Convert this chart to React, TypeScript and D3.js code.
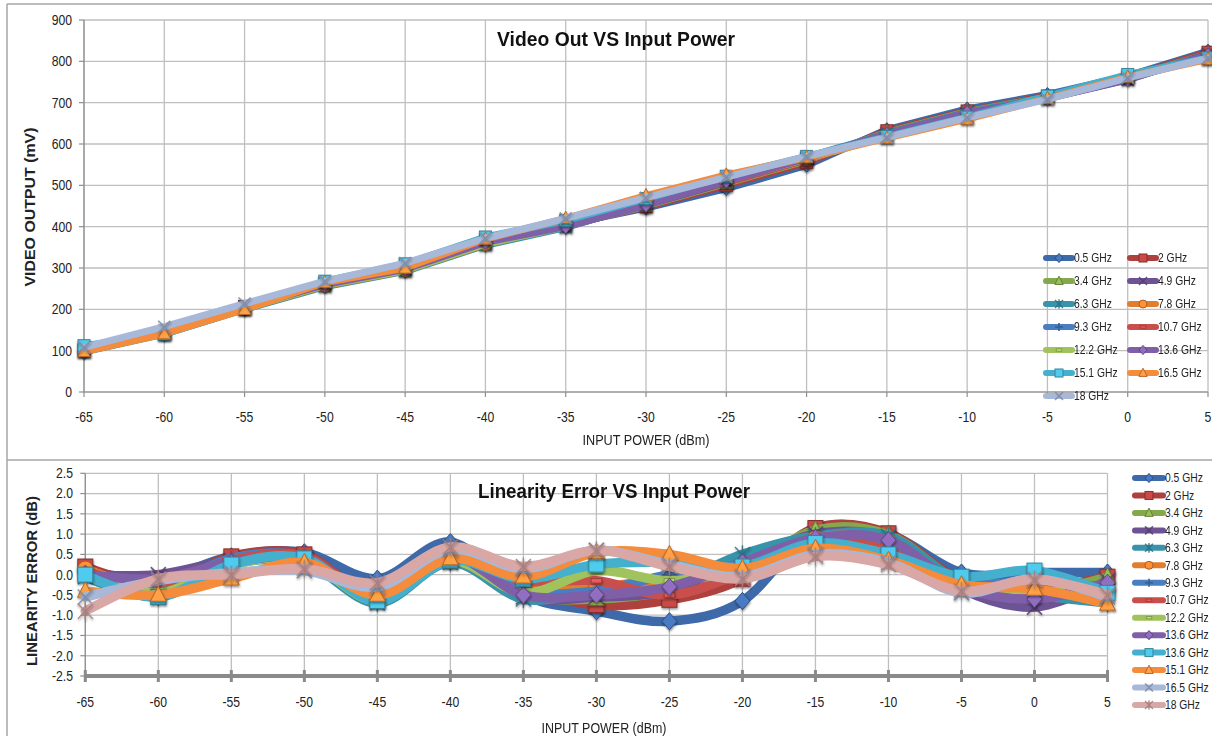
import React from 'react';
import * as d3 from 'd3';

// ---------- data ----------
const inputPower = [-65, -60, -55, -50, -45, -40, -35, -30, -25, -20, -15, -10, -5, 0, 5];
const videoTicks = [0, 100, 200, 300, 400, 500, 600, 700, 800, 900];
const errorTicks = [-2.5, -2.0, -1.5, -1.0, -0.5, 0.0, 0.5, 1.0, 1.5, 2.0, 2.5];

const topLabels = ['0.5 GHz', '2 GHz', '3.4 GHz', '4.9 GHz', '6.3 GHz', '7.8 GHz', '9.3 GHz', '10.7 GHz', '12.2 GHz', '13.6 GHz', '15.1 GHz', '16.5 GHz', '18 GHz'];
const bottomLabels = ['0.5 GHz', '2 GHz', '3.4 GHz', '4.9 GHz', '6.3 GHz', '7.8 GHz', '9.3 GHz', '10.7 GHz', '12.2 GHz', '13.6 GHz', '13.6 GHz', '15.1 GHz', '16.5 GHz', '18 GHz'];

const palette = ['#3E6AAA', '#AE403D', '#84A84B', '#6E5394', '#3893AB', '#E07E2E', '#4A7EC2', '#C84F4C', '#A0C35E', '#7F5FA8', '#45B0CE', '#F48C3C', '#A7B8D8', '#D9A7A6'];
const markerKinds = ['diamond', 'square', 'triangle', 'x', 'star', 'circle', 'plus', 'dash', 'dash', 'diamond', 'square', 'triangle', 'x', 'star'];

// Video output (mV)
const video05 = [100, 145, 205, 260, 305, 370, 405, 445, 492, 548, 635, 685, 720, 765, 825];
const video2 = [102, 143, 207, 262, 297, 362, 405, 448, 500, 555, 632, 680, 716, 762, 822];
const video34 = [98, 142, 203, 258, 294, 358, 402, 450, 505, 560, 628, 678, 714, 760, 818];
const video49 = [100, 148, 204, 258, 296, 360, 400, 452, 507, 563, 626, 676, 710, 755, 818];
const video63 = [97, 140, 200, 255, 292, 355, 398, 455, 510, 568, 625, 677, 713, 758, 810];
const video78 = [100, 142, 202, 257, 294, 357, 404, 457, 514, 562, 622, 672, 712, 760, 812];
const video93 = [100, 143, 205, 262, 298, 366, 402, 455, 516, 565, 622, 670, 714, 763, 814];
const video107 = [101, 143, 204, 261, 297, 362, 406, 460, 508, 562, 620, 668, 713, 760, 811];
const video122 = [99, 142, 202, 258, 294, 358, 400, 465, 512, 564, 618, 665, 712, 760, 811];
const video136 = [100, 146, 204, 260, 297, 362, 400, 452, 510, 565, 624, 676, 710, 756, 816];
const video151 = [112, 140, 202, 268, 310, 375, 415, 468, 522, 570, 618, 665, 716, 768, 808];
const video165 = [98, 141, 200, 265, 300, 370, 420, 475, 525, 567, 614, 660, 710, 762, 805];
const video18 = [108, 158, 214, 268, 312, 372, 420, 470, 520, 570, 616, 664, 708, 760, 808];
const videoSeries = [video05, video2, video34, video49, video63, video78, video93, video107, video122, video136, video151, video165, video18];

// Linearity error (dB)
const err05 = [0.1, -0.1, 0.45, 0.55, -0.1, 0.8, -0.5, -0.9, -1.15, -0.65, 1.1, 1.0, 0.05, 0.05, 0.05];
const err2 = [0.2, -0.25, 0.45, 0.5, -0.55, 0.4, -0.3, -0.75, -0.62, -0.1, 1.15, 1.02, -0.15, -0.35, -0.05];
const err34 = [0.05, -0.45, 0.3, 0.35, -0.65, 0.35, -0.5, -0.6, -0.4, 0.1, 1.1, 0.98, -0.2, -0.45, -0.05];
const err49 = [0.0, 0.0, 0.35, 0.4, -0.6, 0.45, -0.55, -0.55, -0.4, 0.3, 1.0, 0.9, -0.35, -0.8, -0.15];
const err63 = [-0.05, -0.55, 0.25, 0.3, -0.7, 0.3, -0.6, -0.4, -0.25, 0.5, 0.95, 0.95, -0.2, -0.5, -0.7];
const err78 = [0.15, -0.35, 0.3, 0.35, -0.6, 0.35, -0.25, -0.3, -0.1, 0.1, 0.9, 0.82, -0.25, -0.3, -0.4];
const err93 = [0.05, -0.3, 0.4, 0.45, -0.55, 0.5, -0.4, -0.4, 0.0, 0.2, 0.85, 0.7, -0.15, -0.2, -0.3];
const err107 = [0.1, -0.3, 0.35, 0.45, -0.55, 0.4, -0.15, -0.15, -0.5, 0.05, 0.8, 0.6, -0.2, -0.35, -0.5];
const err122 = [0.05, -0.45, 0.25, 0.35, -0.65, 0.35, -0.45, 0.1, -0.15, 0.15, 0.7, 0.5, -0.25, -0.4, -0.45];
const err136 = [0.0, -0.1, 0.3, 0.4, -0.55, 0.45, -0.5, -0.5, -0.3, 0.3, 0.9, 0.85, -0.3, -0.6, -0.2];
const err136b = [0.0, -0.55, 0.25, 0.4, -0.65, 0.35, -0.1, 0.25, 0.3, 0.2, 0.78, 0.5, -0.05, 0.1, -0.45];
const err151 = [-0.4, -0.5, -0.1, 0.3, -0.5, 0.4, -0.05, 0.55, 0.5, 0.15, 0.65, 0.35, -0.25, -0.35, -0.72];
const err165 = [-0.55, -0.15, 0.05, 0.1, -0.3, 0.62, 0.15, 0.6, 0.25, -0.05, 0.5, 0.3, -0.45, -0.1, -0.55];
const err18 = [-0.9, -0.1, 0.0, 0.15, -0.2, 0.68, 0.2, 0.6, 0.2, -0.1, 0.45, 0.25, -0.4, -0.12, -0.5];
const errorSeries = [err05, err2, err34, err49, err63, err78, err93, err107, err122, err136, err136b, err151, err165, err18];

const FONT = "'Liberation Sans', Arial, sans-serif";

function NText({
  x,
  y,
  size,
  anchor = 'start',
  sx = 0.87,
  dy,
  children,
}: {
  x: number;
  y: number;
  size: number;
  anchor?: string;
  sx?: number;
  dy?: string;
  children: React.ReactNode;
}) {
  return (
    <text transform={`translate(${x},${y}) scale(${sx},1)`} textAnchor={anchor as any} fontSize={size} dy={dy} fill="#222">
      {children}
    </text>
  );
}

function Marker({ kind, x, y, r, color }: { kind: string; x: number; y: number; r: number; color: string }) {
  const c = d3.color(color)!;
  const dark = c.darker(0.8).toString();
  const light = c.brighter(0.4).toString();
  const common = { fill: light, stroke: dark, strokeWidth: 1 };
  switch (kind) {
    case 'diamond':
      return <path d={`M${x},${y - r * 1.15}L${x + r},${y}L${x},${y + r * 1.15}L${x - r},${y}Z`} {...common} />;
    case 'square':
      return <rect x={x - r} y={y - r} width={2 * r} height={2 * r} {...common} />;
    case 'triangle':
      return <path d={`M${x},${y - r * 1.2}L${x + r * 1.05},${y + r * 0.85}L${x - r * 1.05},${y + r * 0.85}Z`} {...common} />;
    case 'circle':
      return <circle cx={x} cy={y} r={r} {...common} />;
    case 'x':
      return (
        <g stroke={dark} strokeWidth={1.6} opacity={0.85}>
          <line x1={x - r} y1={y - r} x2={x + r} y2={y + r} />
          <line x1={x - r} y1={y + r} x2={x + r} y2={y - r} />
        </g>
      );
    case 'star':
      return (
        <g stroke={dark} strokeWidth={1.4} opacity={0.85}>
          <line x1={x - r} y1={y - r} x2={x + r} y2={y + r} />
          <line x1={x - r} y1={y + r} x2={x + r} y2={y - r} />
          <line x1={x} y1={y - r * 1.2} x2={x} y2={y + r * 1.2} />
        </g>
      );
    case 'plus':
      return (
        <g stroke={dark} strokeWidth={1.6}>
          <line x1={x - r} y1={y} x2={x + r} y2={y} />
          <line x1={x} y1={y - r} x2={x} y2={y + r} />
        </g>
      );
    case 'dash':
      return <rect x={x - r * 0.7} y={y - r * 0.3} width={r * 1.4} height={r * 0.6} fill={light} stroke={dark} strokeWidth={0.8} />;
    default:
      return null;
  }
}

export default function App() {
  const W = 1212;
  const H = 736;

  const xTop = d3.scaleLinear().domain([-65, 5]).range([84, 1208]);
  const yTop = d3.scaleLinear().domain([0, 900]).range([392, 20]);
  const xBot = d3.scaleLinear().domain([-65, 5]).range([85.3, 1107.5]);
  const yBot = d3.scaleLinear().domain([-2.5, 2.5]).range([676, 473.3]);

  const lineTop = d3.line<number>().x((_, i) => xTop(inputPower[i])).y((d) => yTop(d));
  const lineBot = d3
    .line<number>()
    .x((_, i) => xBot(inputPower[i]))
    .y((d) => yBot(d))
    .curve(d3.curveCardinal.tension(0));

  const grid = '#BFBFBF';
  const axisCol = '#8E8E8E';

  return (
    <svg width={W} height={H} style={{ position: 'absolute', left: 0, top: 0, background: '#fff' }} fontFamily={FONT}>
      <defs>
        <filter id="shadow" x="-50%" y="-50%" width="200%" height="200%">
          <feDropShadow dx="0.5" dy="1.5" stdDeviation="1.2" floodColor="#000" floodOpacity="0.45" />
        </filter>
      </defs>
      <rect x={0} y={0} width={W} height={H} fill="#fff" />
      <line x1={7} y1={4} x2={W} y2={4} stroke="#A6A6A6" strokeWidth={1.5} />
      <line x1={7} y1={4} x2={7} y2={H} stroke="#A6A6A6" strokeWidth={1.5} />
      <line x1={7} y1={460} x2={W} y2={460} stroke="#A6A6A6" strokeWidth={1.5} />

      {/* ================= TOP CHART ================= */}
      <g>
        {videoTicks.map((t) => (
          <line key={'hg' + t} x1={xTop(-65)} x2={xTop(5)} y1={yTop(t)} y2={yTop(t)} stroke={grid} strokeWidth={1.3} />
        ))}
        {inputPower.map((p) => (
          <line key={'vg' + p} x1={xTop(p)} x2={xTop(p)} y1={yTop(900)} y2={yTop(0)} stroke={grid} strokeWidth={1.3} />
        ))}
        <line x1={xTop(-65)} x2={xTop(-65)} y1={yTop(900)} y2={yTop(0)} stroke={axisCol} strokeWidth={1.2} />
        <line x1={xTop(-65)} x2={xTop(5)} y1={yTop(0)} y2={yTop(0)} stroke={axisCol} strokeWidth={1.2} />
        {videoTicks.map((t) => (
          <g key={'yt' + t}>
            <line x1={xTop(-65) - 5} x2={xTop(-65)} y1={yTop(t)} y2={yTop(t)} stroke={axisCol} strokeWidth={1.2} />
            <NText x={72} y={yTop(t)} dy="0.35em" anchor="end" size={14}>
              {t}
            </NText>
          </g>
        ))}
        {inputPower.map((p) => (
          <g key={'xt' + p}>
            <line x1={xTop(p)} x2={xTop(p)} y1={yTop(0)} y2={yTop(0) + 5} stroke={axisCol} strokeWidth={1.2} />
            <NText x={xTop(p)} y={yTop(0) + 30} anchor="middle" size={14}>
              {p}
            </NText>
          </g>
        ))}
        {videoSeries.map((s, si) => (
          <g key={'vs' + si}>
            <path d={lineTop(s) || ''} fill="none" stroke={palette[si]} strokeWidth={7} strokeLinejoin="round" strokeLinecap="round" />
            <g filter="url(#shadow)">
              {s.map((v, i) => (
                <Marker key={i} kind={markerKinds[si]} x={xTop(inputPower[i])} y={yTop(v)} r={6} color={palette[si]} />
              ))}
            </g>
          </g>
        ))}
        <text x={616} y={46} textAnchor="middle" fontSize={21} fontWeight="bold" fill="#111" textLength={238} lengthAdjust="spacingAndGlyphs">
          Video Out VS Input Power
        </text>
        <text x={646} y={445} textAnchor="middle" fontSize={15} fill="#222" textLength={127} lengthAdjust="spacingAndGlyphs">
          INPUT POWER (dBm)
        </text>
        <text transform="translate(35,207) rotate(-90)" textAnchor="middle" fontSize={14} fontWeight="bold" fill="#222" textLength={159} lengthAdjust="spacingAndGlyphs">
          VIDEO OUTPUT (mV)
        </text>
        {topLabels.map((lab, i) => {
          const col = i % 2;
          const row = Math.floor(i / 2);
          const lx = col === 0 ? 1046 : 1130;
          const ly = 258 + row * 23;
          return (
            <g key={'tl' + i}>
              <line x1={lx} x2={lx + 26} y1={ly} y2={ly} stroke={palette[i]} strokeWidth={6} strokeLinecap="round" />
              <Marker kind={markerKinds[i]} x={lx + 13} y={ly} r={4} color={palette[i]} />
              <NText x={lx + 28} y={ly} dy="0.35em" size={12} sx={0.86}>
                {lab}
              </NText>
            </g>
          );
        })}
      </g>

      {/* ================= BOTTOM CHART ================= */}
      <g>
        {errorTicks.map((t) => (
          <line key={'bhg' + t} x1={xBot(-65)} x2={xBot(5)} y1={yBot(t)} y2={yBot(t)} stroke={grid} strokeWidth={1.3} />
        ))}
        {inputPower.map((p) => (
          <line key={'bvg' + p} x1={xBot(p)} x2={xBot(p)} y1={yBot(2.5)} y2={yBot(-2.5)} stroke={grid} strokeWidth={1.3} />
        ))}
        <line x1={xBot(-65)} x2={xBot(-65)} y1={yBot(2.5)} y2={yBot(-2.5)} stroke={axisCol} strokeWidth={1.2} />
        {errorTicks.map((t) => (
          <g key={'byt' + t}>
            <line x1={xBot(-65) - 5} x2={xBot(-65)} y1={yBot(t)} y2={yBot(t)} stroke={axisCol} strokeWidth={1.2} />
            <NText x={73} y={yBot(t)} dy="0.35em" anchor="end" size={14}>
              {t.toFixed(1)}
            </NText>
          </g>
        ))}
        <line x1={xBot(-65)} x2={xBot(5)} y1={yBot(-2.5)} y2={yBot(-2.5)} stroke="#8A8A8A" strokeWidth={4} />
        {inputPower.map((p) => (
          <g key={'bxt' + p}>
            <line x1={xBot(p)} x2={xBot(p)} y1={yBot(-2.5) - 6} y2={yBot(-2.5) + 6} stroke="#8A8A8A" strokeWidth={3} />
            <NText x={xBot(p)} y={yBot(-2.5) + 31} anchor="middle" size={14}>
              {p}
            </NText>
          </g>
        ))}
        {errorSeries.map((s, si) => (
          <g key={'es' + si}>
            <path d={lineBot(s) || ''} fill="none" stroke={palette[si]} strokeWidth={9.5} strokeLinejoin="round" strokeLinecap="round" />
            <g filter="url(#shadow)">
              {s.map((v, i) => (
                <Marker key={i} kind={markerKinds[si]} x={xBot(inputPower[i])} y={yBot(v)} r={7.5} color={palette[si]} />
              ))}
            </g>
          </g>
        ))}
        <text x={614} y={498} textAnchor="middle" fontSize={21} fontWeight="bold" fill="#111" textLength={272} lengthAdjust="spacingAndGlyphs">
          Linearity Error VS Input Power
        </text>
        <text x={604} y={733} textAnchor="middle" fontSize={15} fill="#222" textLength={125} lengthAdjust="spacingAndGlyphs">
          INPUT POWER (dBm)
        </text>
        <text transform="translate(37,581) rotate(-90)" textAnchor="middle" fontSize={14} fontWeight="bold" fill="#222" textLength={170} lengthAdjust="spacingAndGlyphs">
          LINEARITY ERROR (dB)
        </text>
        {bottomLabels.map((lab, i) => {
          const lx = 1135;
          const ly = 478 + i * 17.46;
          return (
            <g key={'bl' + i}>
              <line x1={lx} x2={lx + 28} y1={ly} y2={ly} stroke={palette[i]} strokeWidth={6} strokeLinecap="round" />
              <Marker kind={markerKinds[i]} x={lx + 14} y={ly} r={4} color={palette[i]} />
              <NText x={lx + 30} y={ly} dy="0.35em" size={12} sx={0.86}>
                {lab}
              </NText>
            </g>
          );
        })}
      </g>
    </svg>
  );
}
